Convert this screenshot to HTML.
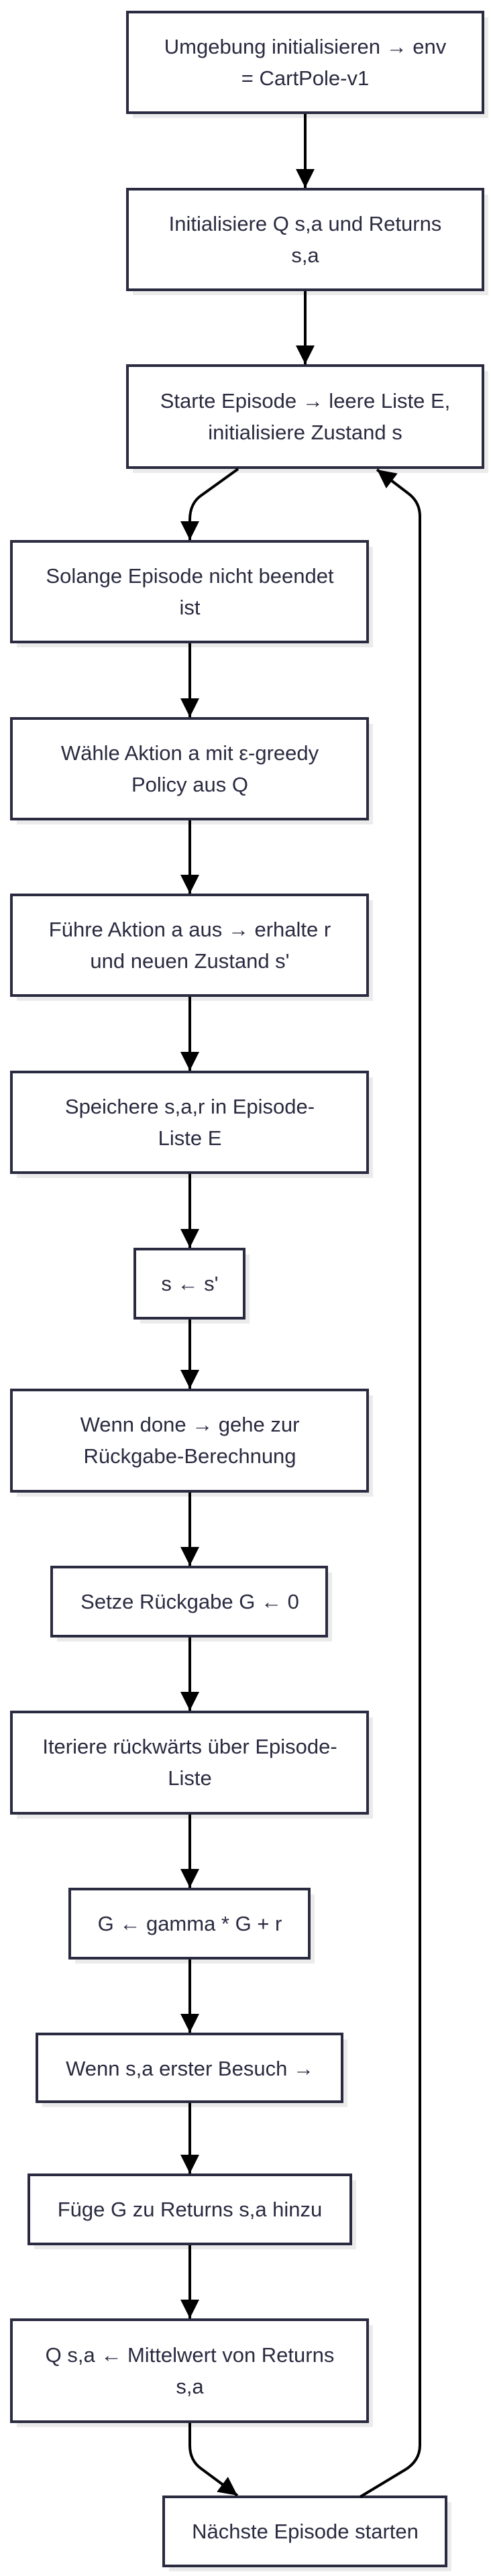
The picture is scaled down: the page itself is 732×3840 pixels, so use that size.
<!DOCTYPE html>
<html><head><meta charset="utf-8"><style>
html,body{margin:0;padding:0;background:#fff;}
svg{display:block;}
text{font-family:"Liberation Sans",Arial,sans-serif;font-size:31px;fill:#2a2a40;text-anchor:middle;}
.b{fill:#fff;stroke:#2a2a40;stroke-width:4;}
.s{fill:#ebebeb;}
.l{stroke:#000;stroke-width:4;fill:none;}
</style></head><body>
<svg width="732" height="3840" viewBox="0 0 732 3840" xmlns="http://www.w3.org/2000/svg">
<defs>
<marker id="a" viewBox="0 0 10 10" refX="10" refY="5" markerWidth="7" markerHeight="7" markerUnits="strokeWidth" orient="auto">
<path d="M0,0 L10,5 L0,10 z" fill="#000"/></marker>
</defs>
<g id="boxes">
<rect class="s" x="198" y="26" width="530" height="150"/><rect class="b" x="190" y="18" width="530" height="150"/>
<text x="455" y="80">Umgebung initialisieren → env</text><text x="455" y="127">= CartPole-v1</text>

<rect class="s" x="198" y="290" width="530" height="150"/><rect class="b" x="190" y="282" width="530" height="150"/>
<text x="455" y="344">Initialisiere Q s,a und Returns</text><text x="455" y="391">s,a</text>

<rect class="s" x="198" y="553" width="530" height="152"/><rect class="b" x="190" y="545" width="530" height="152"/>
<text x="455" y="608">Starte Episode → leere Liste E,</text><text x="455" y="655">initialisiere Zustand s</text>

<rect class="s" x="25" y="815" width="531" height="150"/><rect class="b" x="17" y="807" width="531" height="150"/>
<text x="283" y="869">Solange Episode nicht beendet</text><text x="283" y="916">ist</text>

<rect class="s" x="25" y="1079" width="531" height="150"/><rect class="b" x="17" y="1071" width="531" height="150"/>
<text x="283" y="1133">Wähle Aktion a mit ε-greedy</text><text x="283" y="1180">Policy aus Q</text>

<rect class="s" x="25" y="1342" width="531" height="150"/><rect class="b" x="17" y="1334" width="531" height="150"/>
<text x="283" y="1396">Führe Aktion a aus → erhalte r</text><text x="283" y="1443">und neuen Zustand s'</text>

<rect class="s" x="25" y="1606" width="531" height="150"/><rect class="b" x="17" y="1598" width="531" height="150"/>
<text x="283" y="1660">Speichere s,a,r in Episode-</text><text x="283" y="1707">Liste E</text>

<rect class="s" x="209" y="1870" width="163" height="103"/><rect class="b" x="201" y="1862" width="163" height="103"/>
<text x="283" y="1924">s ← s'</text>

<rect class="s" x="25" y="2080" width="531" height="151"/><rect class="b" x="17" y="2072" width="531" height="151"/>
<text x="283" y="2134">Wenn done → gehe zur</text><text x="283" y="2181">Rückgabe-Berechnung</text>

<rect class="s" x="85" y="2344" width="410" height="103"/><rect class="b" x="77" y="2336" width="410" height="103"/>
<text x="283" y="2398">Setze Rückgabe G ← 0</text>

<rect class="s" x="25" y="2560" width="531" height="151"/><rect class="b" x="17" y="2552" width="531" height="151"/>
<text x="283" y="2614">Iteriere rückwärts über Episode-</text><text x="283" y="2661">Liste</text>

<rect class="s" x="112" y="2824" width="357" height="103"/><rect class="b" x="104" y="2816" width="357" height="103"/>
<text x="283" y="2878">G ← gamma * G + r</text>

<rect class="s" x="63" y="3040" width="455" height="101"/><rect class="b" x="55" y="3032" width="455" height="101"/>
<text x="283" y="3094">Wenn s,a erster Besuch →</text>

<rect class="s" x="51" y="3250" width="480" height="103"/><rect class="b" x="43" y="3242" width="480" height="103"/>
<text x="283" y="3304">Füge G zu Returns s,a hinzu</text>

<rect class="s" x="25" y="3466" width="531" height="152"/><rect class="b" x="17" y="3458" width="531" height="152"/>
<text x="283" y="3521">Q s,a ← Mittelwert von Returns</text><text x="283" y="3568">s,a</text>

<rect class="s" x="252" y="3730" width="421" height="103"/><rect class="b" x="244" y="3722" width="421" height="103"/>
<text x="455" y="3784">Nächste Episode starten</text>
</g>
<g>
<path class="l" marker-end="url(#a)" d="M455,170 V280"/>
<path class="l" marker-end="url(#a)" d="M455,434 V543"/>
<path class="l" marker-end="url(#a)" d="M355,699 L298,740 Q283,752 283,775 V805"/>
<path class="l" marker-end="url(#a)" d="M283,959 V1069"/>
<path class="l" marker-end="url(#a)" d="M283,1223 V1332"/>
<path class="l" marker-end="url(#a)" d="M283,1486 V1596"/>
<path class="l" marker-end="url(#a)" d="M283,1750 V1860"/>
<path class="l" marker-end="url(#a)" d="M283,1967 V2070"/>
<path class="l" marker-end="url(#a)" d="M283,2225 V2334"/>
<path class="l" marker-end="url(#a)" d="M283,2441 V2550"/>
<path class="l" marker-end="url(#a)" d="M283,2705 V2814"/>
<path class="l" marker-end="url(#a)" d="M283,2921 V3030"/>
<path class="l" marker-end="url(#a)" d="M283,3135 V3240"/>
<path class="l" marker-end="url(#a)" d="M283,3347 V3456"/>
<path class="l" marker-end="url(#a)" d="M283,3612 V3645 Q283,3668 300,3680 L354,3720"/>
<path class="l" marker-end="url(#a)" d="M537,3722 L600,3684 Q626,3670 626,3645 V770 Q626,748 608,735 L562,700"/>
</g>
</svg>
</body></html>
